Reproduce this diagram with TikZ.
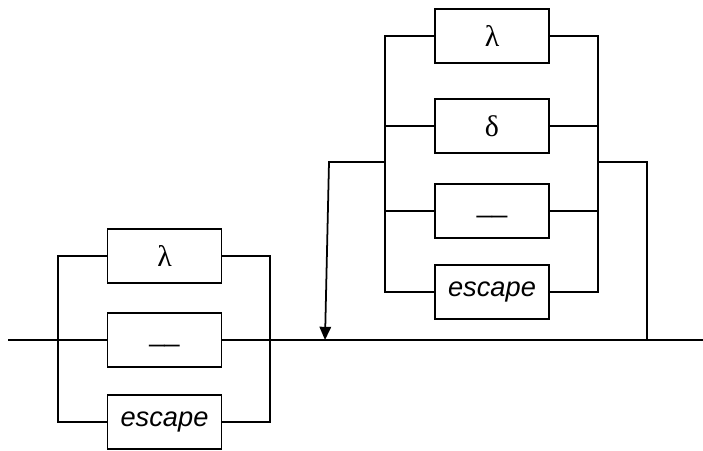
\documentclass[tikz,border=0pt]{standalone}
\usepackage{fontspec}
\setmainfont{Liberation Sans}
\newfontfamily\symfont{Liberation Serif}
\usetikzlibrary{arrows.meta}
\tikzset{
  alt/.style={draw, line width=1pt, minimum width=2.28cm, minimum height=1.08cm,
    inner sep=0pt, font=\fontsize{15.5}{18}\selectfont},
  wire/.style={line width=1pt},
}
\begin{document}
\begin{tikzpicture}[x=0.02cm, y=-0.02cm, >={Triangle[length=7.5pt,width=6.5pt]}]
 \useasboundingbox (0,0) rectangle (703,450);
 % left alternative
 \node[alt] (lam1) at (164.5,256) {\symfont\fontsize{17}{18}\selectfont λ};
 \node[alt] (dash1) at (164.5,340) {\raisebox{-4.5pt}{\_\_}};
 \node[alt] (esc1) at (164.5,422) {\textit{escape}};
 \coordinate (start) at (8,340);
 \coordinate (stop) at (703,340);
 \draw[wire] (lam1.west) -- (58,256) -- (58,422) -- (esc1.west);
 \draw[wire] (lam1.east) -- (270,256) -- (270,422) -- (esc1.east);
 \draw[wire] (start) -- (dash1.west);
 \draw[wire] (dash1.east) -- (stop);
 % right alternative, looped back
 \node[alt] (lam2) at (492,36) {\symfont\fontsize{17}{18}\selectfont λ};
 \node[alt] (del2) at (492,126) {\symfont\fontsize{17}{18}\selectfont δ};
 \node[alt] (dash2) at (492,211) {\raisebox{-4.5pt}{\_\_}};
 \node[alt] (esc2) at (492,292) {\textit{escape}};
 \draw[wire] (lam2.west) -- (385,36) -- (385,292) -- (esc2.west);
 \draw[wire] (lam2.east) -- (598,36) -- (598,292) -- (esc2.east);
 \draw[wire] (del2.west) -- (385,126);
 \draw[wire] (del2.east) -- (598,126);
 \draw[wire] (dash2.west) -- (385,211);
 \draw[wire] (dash2.east) -- (598,211);
 \coordinate (back) at (325,340);
 \draw[wire,->] (385,162) -- (329,162) -- (back);
 \draw[wire] (598,162) -- (647,162) -- (647,340);
\end{tikzpicture}
\end{document}
